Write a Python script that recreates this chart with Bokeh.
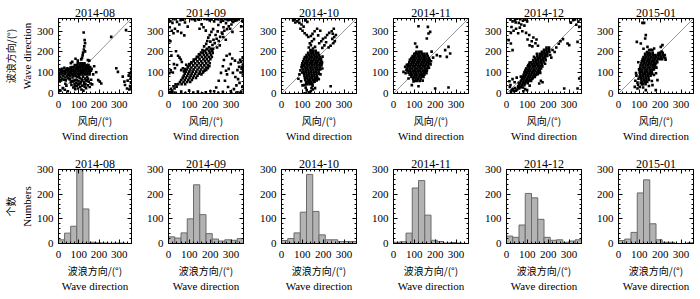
from bokeh.plotting import figure
from bokeh.layouts import row, column
from bokeh.models import LinearAxis, FixedTicker, Title, Range1d
from bokeh.embed import file_html
from bokeh.resources import INLINE

months = ["2014-08", "2014-09", "2014-10", "2014-11", "2014-12", "2015-01"]
tick_values = [0, 100, 200, 300]
bin_edges = [0, 30, 60, 90, 120, 150, 180, 210, 240, 270, 300, 330, 360]

counts_2014_08 = [15, 42, 70, 300, 140, 5, 3, 2, 1, 2, 2, 0]
counts_2014_09 = [27, 22, 43, 100, 238, 117, 40, 18, 10, 15, 13, 20]
counts_2014_10 = [12, 20, 43, 127, 280, 130, 35, 15, 15, 8, 8, 8]
counts_2014_11 = [5, 7, 42, 225, 255, 115, 13, 8, 2, 4, 2, 0]
counts_2014_12 = [30, 25, 75, 203, 185, 98, 25, 13, 15, 5, 10, 15]
counts_2015_01 = [12, 18, 45, 205, 258, 80, 15, 5, 5, 0, 0, 3]

# Dense cores of the scatter panels, read row by row: (wave direction, [wind directions])
core_2014_08 = [
    (145, [95, 108, 118, 128]),
    (136, [80, 92, 104, 115, 126, 138, 148]),
    (127, [66, 78, 90, 101, 112, 123, 134, 145, 156]),
    (118, [62, 74, 86, 97, 108, 119, 130, 141, 152, 163]),
    (109, [60, 71, 83, 94, 105, 116, 127, 138, 149, 160]),
    (100, [64, 76, 88, 99, 110, 121, 132, 143, 154]),
    (91, [70, 82, 94, 106, 118, 130, 142, 153]),
]
core_2014_09 = [
    (215, [186, 203, 214]),
    (205, [174, 196, 210]),
    (195, [165, 181, 198, 212]),
    (185, [152, 170, 186, 204]),
    (175, [143, 160, 177, 193, 208]),
    (165, [131, 149, 168, 184, 201]),
    (155, [121, 139, 157, 175, 192]),
    (145, [110, 128, 146, 163, 181, 198]),
    (135, [101, 119, 137, 155, 172, 189]),
    (125, [93, 110, 128, 146, 163, 180]),
    (115, [88, 104, 121, 139, 156, 174]),
    (105, [84, 100, 116, 133, 150, 166]),
    (95, [78, 95, 111, 128, 145]),
    (85, [73, 90, 106, 122, 139]),
    (75, [68, 84, 101, 117, 132]),
    (65, [61, 78, 95, 112]),
    (55, [55, 72, 89, 104]),
    (45, [47, 63, 80]),
]
core_2014_10 = [
    (205, [140, 152, 164]),
    (195, [128, 140, 152, 164, 176]),
    (185, [120, 132, 144, 156, 168, 180]),
    (175, [112, 124, 136, 148, 160, 172, 184]),
    (165, [108, 120, 132, 144, 156, 168, 180, 190]),
    (155, [104, 116, 128, 140, 152, 164, 176, 188]),
    (145, [100, 112, 124, 136, 148, 160, 172, 184, 194]),
    (135, [98, 110, 122, 134, 146, 158, 170, 182, 192]),
    (125, [100, 112, 124, 136, 148, 160, 172, 184]),
    (115, [104, 116, 128, 140, 152, 164, 176, 186]),
    (105, [106, 118, 130, 142, 154, 166, 178]),
    (95, [108, 120, 132, 144, 156, 168, 180]),
    (85, [110, 122, 134, 146, 158, 170]),
    (75, [112, 124, 136, 148, 160, 172]),
    (65, [114, 126, 138, 150, 162]),
    (55, [118, 130, 142, 154]),
    (45, [124, 136, 148]),
]
core_2014_11 = [
    (200, [110, 122, 134]),
    (190, [100, 112, 124, 136, 148, 160]),
    (180, [92, 104, 116, 128, 140, 152, 164]),
    (170, [86, 98, 110, 122, 134, 146, 158, 170]),
    (160, [80, 92, 104, 116, 128, 140, 152, 164, 174]),
    (150, [76, 88, 100, 112, 124, 136, 148, 160, 172]),
    (140, [72, 84, 96, 108, 120, 132, 144, 156, 168]),
    (130, [68, 80, 92, 104, 116, 128, 140, 152, 164]),
    (120, [66, 78, 90, 102, 114, 126, 138, 150, 162]),
    (110, [68, 80, 92, 104, 116, 128, 140, 152, 160]),
    (100, [72, 84, 96, 108, 120, 132, 144, 154]),
    (90, [78, 90, 102, 114, 126, 138, 148]),
    (80, [86, 98, 110, 122, 134, 144]),
    (70, [94, 106, 118, 130]),
    (60, [102, 114, 126]),
]
core_2014_12 = [
    (220, [192, 204]),
    (210, [180, 192, 204]),
    (200, [170, 182, 194, 206]),
    (190, [160, 172, 184, 196]),
    (180, [148, 160, 172, 184, 196]),
    (170, [138, 150, 162, 174, 186]),
    (160, [128, 140, 152, 164, 176, 188]),
    (150, [118, 130, 142, 154, 166, 178]),
    (140, [110, 122, 134, 146, 158, 170]),
    (130, [102, 114, 126, 138, 150, 162, 172]),
    (120, [96, 108, 120, 132, 144, 156, 166]),
    (110, [90, 102, 114, 126, 138, 150, 160]),
    (100, [86, 98, 110, 122, 134, 146, 154]),
    (90, [82, 94, 106, 118, 130, 142]),
    (80, [78, 90, 102, 114, 126, 136]),
    (70, [74, 86, 98, 110, 122]),
    (60, [70, 82, 94, 106, 118]),
    (50, [66, 78, 90, 102]),
    (40, [62, 74, 86]),
    (30, [56, 68]),
]
core_2015_01 = [
    (195, [140, 152, 164, 200, 212]),
    (185, [128, 140, 152, 164, 176, 188, 200, 212, 222]),
    (175, [120, 132, 144, 156, 168, 180, 192, 204, 216]),
    (165, [116, 128, 140, 152, 164, 176, 188, 200, 210]),
    (155, [112, 124, 136, 148, 160, 172, 184]),
    (145, [110, 122, 134, 146, 158, 170, 180]),
    (135, [106, 118, 130, 142, 154, 166, 176]),
    (125, [104, 116, 128, 140, 152, 164, 172]),
    (115, [102, 114, 126, 138, 150, 162, 170]),
    (105, [102, 114, 126, 138, 150, 160]),
    (95, [104, 116, 128, 140, 152, 162]),
    (85, [106, 118, 130, 142, 154]),
    (75, [108, 120, 132, 144]),
    (65, [110, 122, 134, 146]),
    (55, [114, 126, 138]),
    (45, [118, 130]),
]

# Scattered (wind direction, wave direction) points outside the cores
pts_2014_08 = [
    (1,87),(2,68),(4,99),(7,113),(9,78),(12,104),(14,91),(17,119),(19,72),(21,96),(24,84),(27,109),
    (29,123),(32,93),(34,77),(37,114),(39,101),(42,86),(44,121),(47,107),(49,94),(52,116),(54,102),
    (57,83),(59,124),(62,110),(64,92),(13,63),(26,66),(6,58),(36,63),(46,74),(55,70),(18,106),(31,103),
    (41,112),(51,88),(60,98),
    (56,68),(61,53),(64,41),(69,77),(73,29),(76,62),(79,46),(82,21),(84,66),(87,51),(91,36),(93,79),
    (96,24),(99,58),(101,43),(104,73),(107,31),(111,56),(113,19),(114,69),(117,38),(121,81),(123,14),
    (126,54),(129,33),(131,72),(133,47),(136,26),(139,61),(141,79),(144,39),(149,57),(154,31),(161,66),
    (166,44),(102,86),(86,83),(70,58),(90,64),(118,63),(127,44),(108,48),(95,45),(80,34),(134,64),
    (146,70),(158,48),(74,86),(65,60),
    (9,14),(21,26),(31,18),(39,37),(46,11),(34,47),
    (124,293),(129,256),(131,241),(127,226),(125,211),(121,196),(119,183),(116,171),(112,164),(131,202),
    (68,152),(84,167),(95,158),(61,146),(152,158),(145,160),
    (196,64),(211,48),(204,57),(285,121),(293,104),(317,81),(325,57),(328,41),(338,24),(349,19),
    (341,62),(346,86),(351,96),(355,71),(358,103),(357,52),(353,36),(359,81),(356,29),(359,118),
    (260,272),(333,304),(176,131),(186,102),(171,92),
]
pts_2014_09 = [
    (69,121),(61,112),(64,151),(59,163),(53,172),(46,181),(41,137),(31,121),(21,101),(11,111),(4,98),
    (14,182),(26,141),(36,203),(9,251),(39,33),(34,44),(29,24),(24,35),(18,13),(12,22),(6,7),
    (110,150),(121,163),(100,141),(93,129),(85,138),(79,117),(74,106),(136,176),(146,188),(156,197),
    (163,208),(172,203),(183,211),(195,222),(189,121),(196,131),(181,113),(173,109),(166,101),(158,92),
    (211,233),(222,242),(231,263),(241,252),(248,272),(259,287),(268,301),(281,309),(289,322),(302,331),
    (311,343),(321,349),(216,258),(226,281),(236,298),(201,249),(191,268),(181,238),(171,226),(233,221),
    (246,231),(256,292),(264,318),(276,338),(287,352),(239,329),(251,344),(179,302),(168,318),(159,332),
    (149,311),(296,311),(307,296),(263,271),(275,258),(186,252),(198,281),(206,296),(214,309),
    (1,356),(9,348),(19,339),(29,357),(41,344),(52,331),(58,352),(71,354),(79,341),(92,321),(111,357),
    (128,351),(147,354),(173,358),(198,351),(219,346),(238,357),(262,349),(279,357),(301,354),(318,358),
    (338,357),(354,349),(349,322),(6,318),(16,301),(24,289),(44,299),(31,311),(61,291),(76,279),
    (188,357),(207,355),(229,358),(251,356),(271,358),(291,356),(311,355),(329,352),
    (271,61),(281,92),(289,118),(299,141),(309,99),(321,79),(331,112),(339,128),(349,151),(356,171),
    (346,101),(334,69),(326,39),(314,21),(299,11),(286,31),(276,109),(266,161),(279,181),(294,189),
    (306,168),(319,158),(336,149),(351,119),(357,91),(359,139),(341,51),(354,31),(349,9),(331,6),
    (261,131),(252,99),(241,61),(229,29),(219,11),(358,108),(352,128),(344,162),
    (11,1),(29,4),(61,9),(81,2),(99,14),(119,4),(141,9),(161,1),(179,6),(201,11),(239,3),(261,8),(301,2),
]
pts_2014_10 = [
    (86,92),(91,111),(96,126),(81,71),(94,59),(101,39),(99,101),(103,136),(110,41),(119,45),(131,52),
    (139,47),(149,38),(159,57),(169,63),(179,69),(187,92),(194,152),(197,177),(196,120),
    (121,16),(131,6),(141,11),(151,19),(111,1),(161,26),(236,35),(116,28),(144,26),
    (131,221),(136,241),(141,232),(146,251),(151,216),(156,261),(161,224),(139,209),
    (56,351),(64,356),(76,346),(86,339),(96,331),(106,321),(114,351),(124,344),(101,301),(111,289),
    (121,281),(129,271),(141,276),(149,286),(91,311),(159,299),(171,311),(66,341),(84,357),
    (181,241),(191,251),(199,262),(211,269),(219,281),(229,291),(241,299),(251,311),(256,251),(244,262),
    (236,229),(226,221),(214,246),(206,231),(196,219),(261,281),(249,241),(176,279),(186,301),(253,271),
    (246,287),
]
pts_2014_11 = [
    (120,323),(165,320),(176,296),(168,288),(160,264),(104,240),(112,224),(208,184),(224,179),(248,208),
    (264,224),(272,192),(256,176),(200,24),(264,29),(88,40),(56,128),(48,104),(72,72),(120,35),(96,58),
    (183,201),(190,172),(62,112),(58,97),(79,162),(92,173),(105,192),(129,199),(158,97),(170,124),
    (178,140),(180,155),(140,62),(64,138),
]
pts_2014_12 = [
    (66,31),(61,24),(56,36),(51,19),(46,14),(41,26),(36,11),(31,21),(26,16),(21,9),(14,59),(19,41),
    (29,69),(39,54),(49,76),(59,51),(69,81),(79,29),(89,21),(99,16),(16,31),(157,48),(165,61),(173,54),
    (111,38),(81,11),(94,118),(89,104),(105,136),(111,149),(132,176),(146,191),(172,190),(185,143),
    (150,93),(162,99),(137,87),(126,74),(115,63),(102,57),(210,185),(215,172),
    (19,356),(29,346),(41,351),(51,359),(59,339),(71,331),(79,349),(91,354),(99,346),(24,319),(34,301),
    (46,311),(56,289),(64,316),(76,299),(86,326),(94,291),(21,291),(44,341),(66,357),
    (101,259),(109,281),(121,251),(129,269),(139,241),(151,229),(111,231),(124,226),(144,259),
    (10,256),(21,240),(29,208),
    (309,340),(320,352),(335,330),(345,345),(349,320),(293,240),(301,232),(341,248),(349,72),(277,24),
    (341,24),(221,209),(231,199),(239,221),(251,239),(259,251),(271,261),(329,356),(355,357),
]
pts_2015_01 = [
    (101,81),(99,116),(96,71),(91,52),(86,86),(81,61),(94,41),(102,31),(107,52),(112,44),(117,159),
    (128,191),(137,199),(170,89),(180,97),(182,124),(186,150),(207,201),(192,194),(224,171),(226,162),
    (115,339),(123,339),(131,280),(128,264),(88,248),(107,240),(139,224),(147,208),(163,208),(171,216),
    (203,224),(211,232),(78,32),(91,24),(163,40),(187,64),(179,16),(131,16),(118,29),(146,36),(84,98),
    (155,210),(120,215),(95,150),(160,60),
]

scatter_cores = [core_2014_08, core_2014_09, core_2014_10, core_2014_11, core_2014_12, core_2015_01]
scatter_sets = [pts_2014_08, pts_2014_09, pts_2014_10, pts_2014_11, pts_2014_12, pts_2015_01]
count_sets = [counts_2014_08, counts_2014_09, counts_2014_10, counts_2014_11, counts_2014_12, counts_2015_01]

SERIF = "Liberation Serif"
CJK = "Noto Sans CJK SC"

widths = [136, 113, 112, 113, 112, 110]
lefts = [56, 32, 32, 32, 32, 32]
FRAME = 75
HAS_STANDOFF = "standoff" in Title.properties()


def style_fig(p, yticks):
    p.grid.visible = False
    p.outline_line_color = "black"
    p.background_fill_color = "white"
    p.border_fill_color = "white"
    minor_x = [v for v in range(0, 361, 20) if v not in tick_values]
    minor_y = [v for v in range(0, 361, 20) if v not in yticks]
    p.xaxis.ticker = FixedTicker(ticks=tick_values, minor_ticks=minor_x)
    p.yaxis.ticker = FixedTicker(ticks=yticks, minor_ticks=minor_y)
    for ax in [p.xaxis[0], p.yaxis[0]]:
        ax.major_tick_in = 4
        ax.major_tick_out = 0
        ax.minor_tick_in = 2
        ax.minor_tick_out = 0
        ax.major_label_text_font = SERIF
        ax.major_label_text_font_size = "11px"
        ax.major_label_text_color = "black"
        ax.axis_line_color = "black"
    p.xaxis.major_label_standoff = 7
    p.yaxis.major_label_standoff = 5
    top = LinearAxis(ticker=FixedTicker(ticks=tick_values, minor_ticks=minor_x),
                     major_label_text_font_size="1px", major_label_text_color=None,
                     major_label_standoff=0,
                     major_tick_in=4, major_tick_out=0, minor_tick_in=2, minor_tick_out=0)
    right = LinearAxis(ticker=FixedTicker(ticks=yticks, minor_ticks=minor_y),
                       major_label_text_font_size="1px", major_label_text_color=None,
                       major_label_standoff=0,
                       major_tick_in=4, major_tick_out=0, minor_tick_in=2, minor_tick_out=0)
    p.add_layout(top, "above")
    p.add_layout(right, "right")


def make_title(text, font, size="11px", standoff=0):
    t = Title(text=text, align="center", text_font=font, text_font_size=size,
              text_font_style="normal", text_color="black")
    if HAS_STANDOFF:
        t.standoff = standoff
    return t


def set_main_title(p, m):
    p.title.text = m
    p.title.align = "center"
    p.title.text_font = SERIF
    p.title.text_font_size = "12px"
    p.title.text_font_style = "normal"
    p.title.text_color = "black"
    if HAS_STANDOFF:
        p.title.standoff = 4


top_figs = []
bot_figs = []
for i, m in enumerate(months):
    w = widths[i]
    L = lefts[i]
    R = w - L - FRAME
    # scatter panel
    p = figure(width=w, height=152, x_range=Range1d(0, 360), y_range=Range1d(0, 360),
               output_backend="svg", toolbar_location=None,
               min_border_left=L, min_border_right=R, min_border_top=18, min_border_bottom=59)
    set_main_title(p, m)
    style_fig(p, tick_values)
    p.line([0, 360], [0, 360], line_color="#7a7a7a", line_width=0.8)
    xs = [x for y, row_x in scatter_cores[i] for x in row_x] + [a for a, b in scatter_sets[i]]
    ys = [y for y, row_x in scatter_cores[i] for x in row_x] + [b for a, b in scatter_sets[i]]
    p.scatter(xs, ys, marker="square", size=2.6, fill_color="black", line_color=None)
    p.add_layout(make_title("风向/(°)", CJK, "10px"), "below")
    p.add_layout(make_title("Wind direction", SERIF), "below")
    if i == 0:
        p.add_layout(make_title("Wave direction", SERIF, standoff=2), "left")
        p.add_layout(make_title("波浪方向/(°)", CJK, "10px"), "left")
    top_figs.append(p)

    # histogram panel
    h = figure(width=w, height=145, x_range=Range1d(0, 360), y_range=Range1d(0, 300),
               output_backend="svg", toolbar_location=None,
               min_border_left=L, min_border_right=R, min_border_top=17, min_border_bottom=54)
    set_main_title(h, m)
    style_fig(h, tick_values)
    h.quad(left=bin_edges[:-1], right=bin_edges[1:], bottom=0, top=count_sets[i],
           fill_color="#b3b3b3", line_color="#6a6a6a", line_width=1)
    h.add_layout(make_title("波浪方向/(°)", CJK, "10px"), "below")
    h.add_layout(make_title("Wave direction", SERIF), "below")
    if i == 0:
        h.add_layout(make_title("Numbers", SERIF, standoff=2), "left")
        h.add_layout(make_title("个数", CJK, "10px"), "left")
    bot_figs.append(h)

layout = column(row(*top_figs, spacing=0), row(*bot_figs, spacing=0), spacing=0)
open("out.html", "w").write(file_html(layout, INLINE))
